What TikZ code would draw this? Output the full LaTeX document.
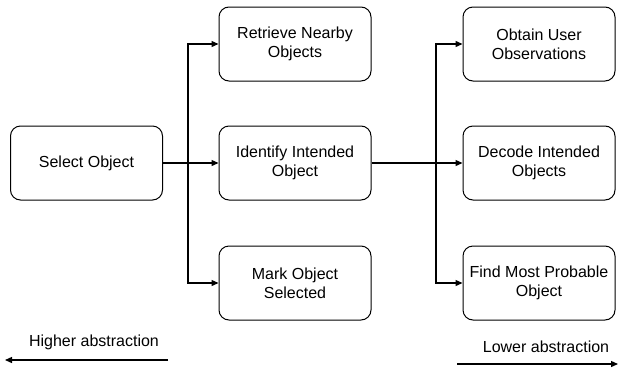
\documentclass[tikz,border=0pt]{standalone}
\usepackage{fontspec}
\setmainfont{Liberation Sans}
\usetikzlibrary{arrows.meta}
\begin{document}
\begin{tikzpicture}[x=1pt,y=-1pt,
  box/.style={draw, rounded corners=10pt, line width=1pt, minimum width=152pt, minimum height=74pt, align=center, font=\fontsize{16}{19}\selectfont, inner sep=0pt},
  conn/.style={line width=1.3pt, -{Triangle[length=7pt,width=6pt]}},
  lbl/.style={font=\fontsize{16}{19}\selectfont, inner sep=0pt}]
\useasboundingbox (0,0) rectangle (618,370);
\node[box] (sel) at (86.5,163) {Select Object};
\node[box] (ret) at (295,44) {Retrieve Nearby\\Objects};
\node[box] (ide) at (295,163) {Identify Intended\\Object};
\node[box] (mark) at (295,283) {Mark Object\\Selected};
\node[box] (obt) at (539,44) {Obtain User\\Observations};
\node[box] (dec) at (539,163) {Decode Intended\\Objects};
\node[box] (find) at (539,283) {Find Most Probable\\Object};
\coordinate (t1) at (188,163);
\coordinate (t2) at (436,163);
\draw[conn] (sel) -- (ide);
\draw[conn] (t1) |- (ret);
\draw[conn] (t1) |- (mark);
\draw[conn] (ide) -- (dec);
\draw[conn] (t2) |- (obt);
\draw[conn] (t2) |- (find);
\node[lbl] (hi) at (94,342) {Higher abstraction};
\node[lbl] (lo) at (546,347) {Lower abstraction};
\coordinate (h1) at (168,360);
\coordinate (h2) at (5,360);
\coordinate (l1) at (457,364);
\coordinate (l2) at (618,364);
\draw[conn] (h1) -- (h2);
\draw[conn] (l1) -- (l2);
\end{tikzpicture}
\end{document}
